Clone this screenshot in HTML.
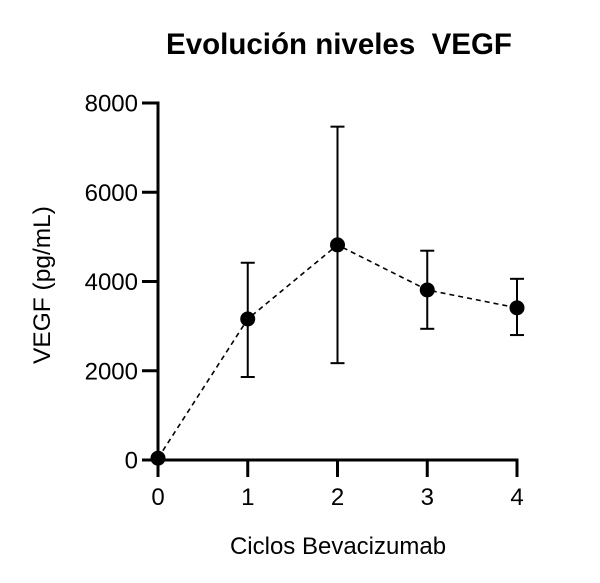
<!DOCTYPE html>
<html><head><meta charset="utf-8"><style>
html,body{margin:0;padding:0;background:#fff;}
svg{display:block;font-family:"Liberation Sans",Arial,sans-serif;}
</style></head><body>
<svg id="chart" width="600" height="583" viewBox="0 0 600 583" xmlns="http://www.w3.org/2000/svg">
<text x="339" y="54" text-anchor="middle" font-size="29.5" font-weight="bold" xml:space="preserve">Evolución niveles  VEGF</text>
<text transform="translate(50,285) rotate(-90)" text-anchor="middle" font-size="24.5">VEGF (pg/mL)</text>
<text x="338" y="554" text-anchor="middle" font-size="24">Ciclos Bevacizumab</text>
<g id="axes"></g><g id="marks"></g>
</svg>
<script>
const categories = [0, 1, 2, 3, 4];
const means = [40, 3160, 4820, 3810, 3410];
const upper = [40, 4420, 7470, 4690, 4060];
const lower = [40, 1860, 2170, 2940, 2800];
const yTicks = [0, 2000, 4000, 6000, 8000];
const xTickLabels = ["0", "1", "2", "3", "4"];

const NS = "http://www.w3.org/2000/svg";
const x = v => 158 + v * 89.75;
const y = v => 460 - v * (357 / 8000);
function mk(tag, attrs, parent){const e=document.createElementNS(NS,tag);for(const k in attrs)e.setAttribute(k,attrs[k]);parent.appendChild(e);return e;}
const axes=document.getElementById('axes'), marks=document.getElementById('marks');

let l=mk('line',{x1:158,y1:y(8000)-1.5,x2:158,y2:461.5,stroke:'#000','stroke-width':3},axes);


l=mk('line',{x1:156.5,y1:460,x2:x(4)+1.5,y2:460,stroke:'#000','stroke-width':3},axes);


yTicks.forEach(t=>{
  const tk=mk('line',{x1:142,y1:y(t),x2:158,y2:y(t),stroke:'#000','stroke-width':3},axes);
  
  
  const tx=mk('text',{x:138,y:y(t)+8.5,'text-anchor':'end','font-size':24},axes);
  
  
  tx.textContent=String(t);
});
categories.forEach((c,i)=>{
  const tk=mk('line',{x1:x(c),y1:460,x2:x(c),y2:477,stroke:'#000','stroke-width':3},axes);
  
  
  const tx=mk('text',{x:x(c),y:505,'text-anchor':'middle','font-size':24},axes);
  
  
  tx.textContent=xTickLabels[i];
});
const pl=mk('polyline',{points:categories.map((c,i)=>x(c)+','+y(means[i])).join(' '),fill:'none',stroke:'#000','stroke-width':1.6,'stroke-dasharray':'5,4'},marks);


categories.forEach((c,i)=>{
  if(upper[i]!==lower[i]){
    const g=mk('g',{stroke:'#000','stroke-width':2},marks);
    
    
    mk('line',{x1:x(c),y1:y(upper[i]),x2:x(c),y2:y(lower[i])},g);
    mk('line',{x1:x(c)-7,y1:y(upper[i]),x2:x(c)+7,y2:y(upper[i])},g);
    mk('line',{x1:x(c)-7,y1:y(lower[i]),x2:x(c)+7,y2:y(lower[i])},g);
  }
  const p=mk('circle',{cx:x(c),cy:y(means[i]),r:7.5,fill:'#000'},marks);
  
  
});
</script>
</body></html>
